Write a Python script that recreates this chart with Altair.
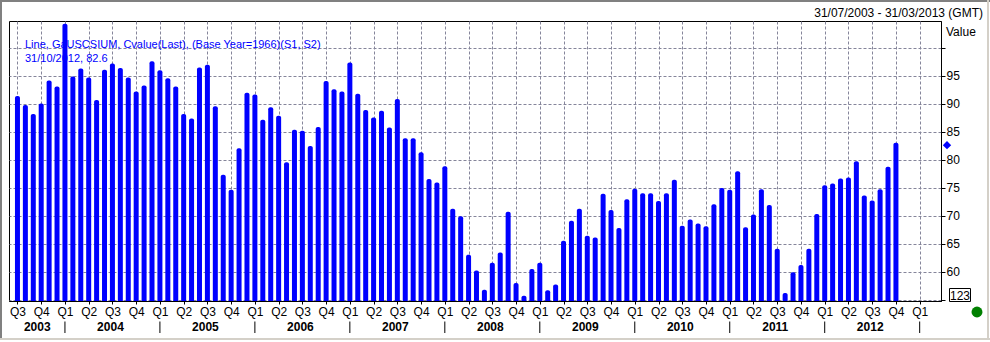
import altair as alt
import pandas as pd

# University of Michigan consumer sentiment, monthly, Jul 2003 - Oct 2012
start_year, start_month = 2003, 7
values = [
    90.9, 89.3, 87.7, 89.6, 93.7, 92.6,                                   # 2003 Jul-Dec
    103.8, 94.4, 95.8, 94.2, 90.2, 95.6, 96.7, 95.9, 94.2, 91.7, 92.8, 97.1,  # 2004
    95.5, 94.1, 92.6, 87.7, 86.9, 96.0, 96.5, 89.1, 76.9, 74.2, 81.6, 91.5,   # 2005
    91.2, 86.7, 88.9, 87.4, 79.1, 84.9, 84.7, 82.0, 85.4, 93.6, 92.1, 91.7,   # 2006
    96.9, 91.3, 88.4, 87.1, 88.3, 85.3, 90.4, 83.4, 83.4, 80.9, 76.1, 75.5,   # 2007
    78.4, 70.8, 69.5, 62.6, 59.8, 56.4, 61.2, 63.0, 70.3, 57.6, 55.3, 60.1,   # 2008
    61.2, 56.3, 57.3, 65.1, 68.7, 70.8, 66.0, 65.7, 73.5, 70.6, 67.4, 72.5,   # 2009
    74.4, 73.6, 73.6, 72.2, 73.6, 76.0, 67.8, 68.9, 68.2, 67.7, 71.6, 74.5,   # 2010
    74.2, 77.5, 67.5, 69.8, 74.3, 71.5, 63.7, 55.8, 59.5, 60.8, 63.7, 69.9,   # 2011
    75.0, 75.3, 76.2, 76.4, 79.3, 73.2, 72.3, 74.3, 78.3, 82.6,               # 2012 Jan-Oct
]
years = [2003, 2004, 2005, 2006, 2007, 2008, 2009, 2010, 2011, 2012]
y_ticks = [55, 60, 65, 70, 75, 80, 85, 90, 95, 100]
legend_line1 = "Line, GaUSCSIUM, Cvalue(Last), (Base Year=1966)(S1, S2)"
legend_line2 = "31/10/2012, 82.6"
date_range = "31/07/2003 - 31/03/2013 (GMT)"

FONT = "Liberation Sans"
W, H = 932, 280

df = pd.DataFrame({"idx": list(range(len(values))), "value": values})
n_months_axis = 117  # Jul 2003 .. Mar 2013
quarter_idx = list(range(0, n_months_axis - 1, 3))

def jan_index(y):
    return (y - start_year) * 12 + (1 - start_month)

year_df = pd.DataFrame({
    "year": [str(y) for y in years],
    "pos": [(max(jan_index(y), 0) + jan_index(y + 1)) / 2 - (0.25 if jan_index(y) > 0 else 0.5) for y in years],
})
sep_df = pd.DataFrame({"pos": [jan_index(y) for y in years[1:] + [years[-1] + 1]]})

xscale = alt.Scale(domain=[-0.4375, 116.0625], nice=False, zero=False)
yscale = alt.Scale(domain=[54.82, 104.73], nice=False, zero=False)

xaxis = alt.Axis(
    values=quarter_idx, title=None, grid=True, gridDash=[3, 2], gridColor="#85859a",
    labelExpr="'Q' + (floor(((datum.value + 6) % 12) / 3) + 1)",
    labelFont=FONT, labelFontSize=12, labelColor="black", labelPadding=2,
    tickSize=3, tickColor="black", domainColor="black", labelFlush=False,
    labelOverlap=False, labelBound=False,
)
yaxis = alt.Axis(
    values=y_ticks, orient="right", title=None, grid=True, gridDash=[3, 2], gridColor="#85859a",
    labelExpr="(datum.value == 55 || datum.value == 100) ? '' : datum.label",
    labelFont=FONT, labelFontSize=12, labelColor="black", labelPadding=1,
    tickSize=4, tickColor="black", domainColor="black", labelOverlap=False, labelBound=False,
)

base = alt.Chart(df)

misc_df = pd.DataFrame({"a": [0]})

legend1 = alt.Chart(misc_df).mark_text(
    align="left", baseline="middle", font=FONT, fontSize=11, color="#0000ff"
).encode(x=alt.value(16), y=alt.value(23.5), text=alt.value(legend_line1))
legend2 = alt.Chart(misc_df).mark_text(
    align="left", baseline="middle", font=FONT, fontSize=11, color="#0000ff"
).encode(x=alt.value(16), y=alt.value(37.5), text=alt.value(legend_line2))

bars = base.mark_bar(
    width=5, color="#0000ff", cornerRadiusTopLeft=2, cornerRadiusTopRight=2, yOffset=-2.5, y2Offset=0
).encode(
    x=alt.X("idx:Q", scale=xscale, axis=xaxis),
    y=alt.Y("value:Q", scale=yscale, axis=yaxis, stack=None),
    y2=alt.value(H),
)

year_text = alt.Chart(year_df).mark_text(
    font=FONT, fontSize=12, fontWeight="bold", color="black", baseline="middle"
).encode(x=alt.X("pos:Q", scale=xscale, axis=xaxis), y=alt.value(305.5), text="year:N")

seps = alt.Chart(sep_df).mark_rule(color="black", strokeWidth=1).encode(
    x=alt.X("pos:Q", scale=xscale, axis=xaxis), y=alt.value(300.5), y2=alt.value(312)
)

last_df = df.tail(1)
diamond = alt.Chart(last_df).mark_point(shape="diamond", filled=True, color="#0000ff", size=70, opacity=1).encode(
    x=alt.value(W + 6), y=alt.Y("value:Q", scale=yscale, axis=yaxis)
)

top_title = alt.Chart(misc_df).mark_text(
    align="right", baseline="middle", font=FONT, fontSize=12, color="black"
).encode(x=alt.value(974), y=alt.value(-8.5), text=alt.value(date_range))

value_title = alt.Chart(misc_df).mark_text(
    align="left", baseline="middle", font=FONT, fontSize=12, color="black"
).encode(x=alt.value(W + 5), y=alt.value(10.5), text=alt.value("Value"))

box = alt.Chart(misc_df).mark_rect(fill="white", stroke="black", strokeWidth=1).encode(
    x=alt.value(W + 8.5), x2=alt.value(W + 29.5), y=alt.value(267.5), y2=alt.value(280.5)
)
box_text = alt.Chart(misc_df).mark_text(
    align="center", baseline="middle", font=FONT, fontSize=12, color="black"
).encode(x=alt.value(W + 19), y=alt.value(274.5), text=alt.value("123"))

dot = alt.Chart(misc_df).mark_point(shape="circle", filled=True, color="#008000", size=120, opacity=1).encode(
    x=alt.value(968), y=alt.value(291)
)

frame_dark_top = alt.Chart(misc_df).mark_rule(color="#808080", strokeWidth=2).encode(
    x=alt.value(-9), x2=alt.value(981), y=alt.value(-20)
)
frame_dark_left = alt.Chart(misc_df).mark_rule(color="#808080", strokeWidth=2).encode(
    x=alt.value(-8), y=alt.value(-21), y2=alt.value(319)
)
frame_light_right = alt.Chart(misc_df).mark_rule(color="#d4d0c8", strokeWidth=2).encode(
    x=alt.value(979), y=alt.value(-21), y2=alt.value(319)
)
frame_light_bottom = alt.Chart(misc_df).mark_rule(color="#d4d0c8", strokeWidth=2).encode(
    x=alt.value(-9), x2=alt.value(981), y=alt.value(318)
)

chart = alt.layer(
    legend1, legend2, bars, year_text, seps, diamond, top_title, value_title, box, box_text, dot,
    frame_dark_top, frame_dark_left, frame_light_right, frame_light_bottom,
).properties(
    width=W, height=H,
    autosize=alt.AutoSizeParams(type="none"),
    padding={"left": 9, "top": 21, "right": 49, "bottom": 41},
    background="white",
).configure_view(stroke="black", strokeWidth=1).configure_axis(labelOverlap=False)

chart.save("out.html", embed_options={"renderer": "svg", "actions": False})
